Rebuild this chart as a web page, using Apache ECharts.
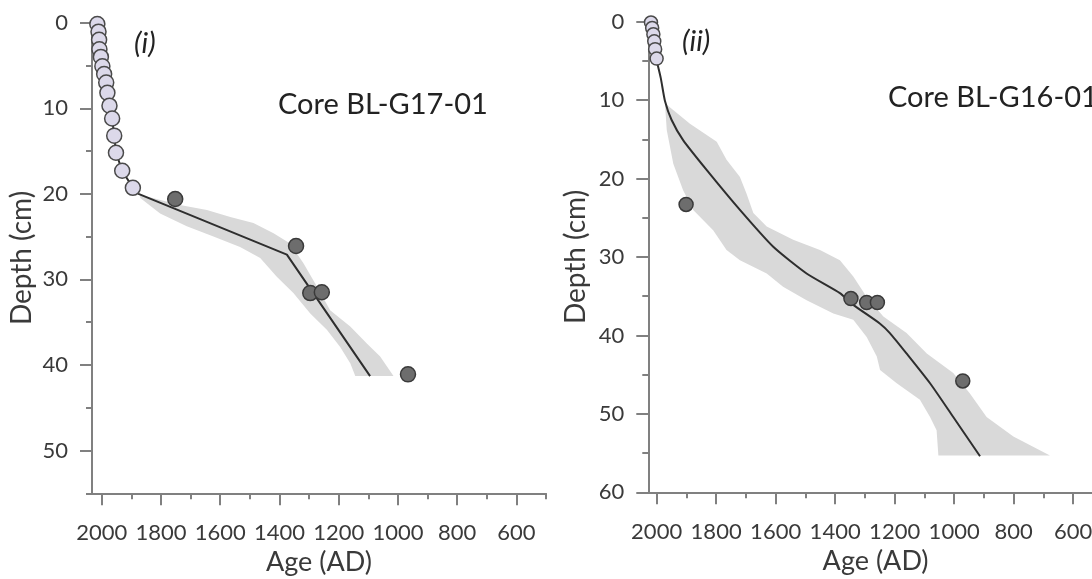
<!DOCTYPE html>
<html>
<head>
<meta charset="utf-8">
<script src="https://cdn.jsdelivr.net/npm/echarts@6/dist/echarts.min.js"></script>
<style>
  html, body { margin: 0; padding: 0; background: #fff; }
  #chart { width: 1092px; height: 579px; }
</style>
</head>
<body>
<div id="chart"></div>
<script>
// ---- Axis ticks ----
const ageTicks = [2000, 1800, 1600, 1400, 1200, 1000, 800, 600];
const ageMinorTicks = [1900, 1700, 1500, 1300, 1100, 900, 700, 500];
const depthTicksG17 = [0, 10, 20, 30, 40, 50];
const depthMinorG17 = [5, 15, 25, 35, 45, 55];
const depthTicksG16 = [0, 10, 20, 30, 40, 50, 60];
const depthMinorG16 = [5, 15, 25, 35, 45, 55];

// ---- Core BL-G17-01: [age AD, depth cm] ----
const g17Pb = [[2015, 0.15], [2011, 1.05], [2009, 2.0], [2008, 3.1], [2003, 4.0], [1998, 5.1],
  [1992, 6.0], [1985, 7.0], [1981, 8.2], [1974, 9.7], [1965, 11.2], [1958, 13.2],
  [1952, 15.2], [1931, 17.3], [1895, 19.3]];
const g17C14 = [[1752, 20.6], [1344, 26.1], [1296, 31.6], [1257, 31.5], [966, 41.1]];
const g17Model = [[2015, 0.15], [2011, 1.05], [2008, 3.1], [2003, 4.0], [1998, 5.1], [1992, 6.0],
  [1985, 7.0], [1981, 8.2], [1974, 9.7], [1965, 11.2], [1958, 13.2], [1952, 15.2],
  [1931, 17.3], [1895, 19.3], [1876, 20.0], [1375, 27.1], [1094, 41.3]];
const g17BandOld = [[1871, 20.1], [1736, 21.3], [1645, 21.9], [1566, 22.7], [1488, 23.4],
  [1420, 24.6], [1364, 25.8], [1319, 28.1], [1274, 30.8], [1229, 33.6], [1161, 35.5],
  [1105, 37.5], [1060, 39.0], [1015, 41.3]];
const g17BandYoung = [[1870, 20.5], [1803, 22.3], [1713, 23.8], [1623, 25.0], [1533, 26.2],
  [1465, 27.5], [1409, 29.7], [1353, 31.6], [1296, 34.0], [1240, 35.9], [1195, 37.9],
  [1161, 39.8], [1144, 41.3]];

// ---- Core BL-G16-01: [age AD, depth cm] ----
const g16Pb = [[2019, 0.1], [2015, 0.8], [2011, 1.6], [2008, 2.5], [2005, 3.5], [2000, 4.7]];
const g16C14 = [[1901, 23.3], [1347, 35.3], [1294, 35.8], [1258, 35.8], [971, 45.8]];
const g16Model = [[2019, 0.1], [2015, 0.8], [2011, 1.6], [2008, 2.5], [2005, 3.5], [2000, 4.9],
  [1986, 7.2], [1972, 10.1], [1950, 12.5], [1911, 15.1], [1832, 18.9], [1720, 24.0],
  [1608, 28.7], [1496, 32.1], [1384, 34.6], [1339, 36.1], [1249, 38.5], [1216, 39.7],
  [1160, 42.3], [1081, 46.1], [1003, 50.4], [913, 55.4]];
const g16BandOld = [[1972, 10.4], [1888, 13.0], [1798, 15.3], [1765, 17.6], [1720, 19.8],
  [1698, 21.9], [1675, 24.4], [1630, 26.1], [1541, 27.8], [1451, 29.1], [1384, 30.4],
  [1339, 32.5], [1294, 35.1], [1238, 37.6], [1160, 39.7], [1092, 42.3], [1003, 44.8],
  [947, 47.4], [891, 50.4], [801, 52.9], [678, 55.3]];
const g16BandYoung = [[1972, 10.4], [1966, 13.8], [1944, 18.1], [1911, 21.5], [1877, 24.0],
  [1810, 26.6], [1765, 29.1], [1720, 30.4], [1630, 32.1], [1575, 33.8], [1496, 35.5],
  [1406, 37.2], [1339, 38.0], [1294, 40.2], [1260, 42.7], [1249, 44.4], [1193, 46.1],
  [1115, 48.2], [1081, 50.4], [1059, 52.1], [1053, 55.3]];

const FONT = 'Lato, "Open Sans", sans-serif';
const AXIS_GRAY = '#808080';
const TEXT = '#3a3a3a';
const plain = function (v) { return String(v); };

function ageAxis(grid, max, major) {
  return {
    type: 'value', gridIndex: grid, inverse: true, min: 500, max: max,
    position: 'bottom',
    name: major ? 'Age (AD)' : '', nameLocation: 'middle', nameGap: 53,
    nameTextStyle: { fontFamily: FONT, fontSize: 27, color: TEXT },
    axisLine: { show: major, onZero: false, lineStyle: { color: AXIS_GRAY, width: 2 } },
    axisTick: { show: true, customValues: major ? ageTicks : ageMinorTicks,
      length: major ? 12 : 6, lineStyle: { color: AXIS_GRAY, width: 2 } },
    axisLabel: { show: major, customValues: ageTicks, margin: 29, formatter: plain,
      fontFamily: FONT, fontSize: 22, color: TEXT },
    splitLine: { show: false }
  };
}

function depthAxis(grid, max, ticks, minor, major, gap) {
  return {
    type: 'value', gridIndex: grid, inverse: true, min: 0, max: max,
    position: 'left',
    name: major ? 'Depth (cm)' : '', nameLocation: 'middle', nameGap: gap,
    nameTextStyle: { fontFamily: FONT, fontSize: 28, color: TEXT },
    axisLine: { show: major, onZero: false, lineStyle: { color: AXIS_GRAY, width: 2 } },
    axisTick: { show: true, customValues: major ? ticks : minor,
      length: major ? 12 : 6, lineStyle: { color: AXIS_GRAY, width: 2 } },
    axisLabel: { show: major, customValues: ticks, margin: 24, formatter: plain,
      fontFamily: FONT, fontSize: 22, color: TEXT },
    splitLine: { show: false }
  };
}

// Shaded uncertainty envelope: older edge downwards, younger edge back up
function bandSeries(oldEdge, youngEdge, xi, yi) {
  const poly = oldEdge.concat(youngEdge.slice().reverse());
  return {
    type: 'custom', xAxisIndex: xi, yAxisIndex: yi, z: 1, silent: true,
    data: [poly[0]],
    renderItem: function (params, api) {
      return {
        type: 'polygon',
        shape: { points: poly.map(function (p) { return api.coord(p); }) },
        style: { fill: '#d9d9d9' }
      };
    }
  };
}

function modelLine(data, xi, yi, smooth) {
  return {
    type: 'line', xAxisIndex: xi, yAxisIndex: yi, z: 2, data: data,
    showSymbol: false, silent: true, smooth: smooth,
    lineStyle: { color: '#2e2e2e', width: 2 }
  };
}

function dots(data, xi, yi, size, fill, stroke) {
  return {
    type: 'scatter', xAxisIndex: xi, yAxisIndex: yi, z: 3, data: data,
    symbol: 'circle', symbolSize: size, silent: true,
    itemStyle: { color: fill, borderColor: stroke, borderWidth: 1.5, opacity: 1 }
  };
}

const chart = echarts.init(document.getElementById('chart'), null, { renderer: 'canvas' });

chart.setOption({
  animation: false,
  backgroundColor: '#ffffff',
  textStyle: { fontFamily: FONT },
  title: [
    { text: 'Core BL-G17-01', left: 273, top: 85,
      textStyle: { fontFamily: FONT, fontSize: 29, fontWeight: 'normal', color: '#222' } },
    { text: 'Core BL-G16-01', left: 883, top: 78,
      textStyle: { fontFamily: FONT, fontSize: 29, fontWeight: 'normal', color: '#222' } },
    { text: '(i)', left: 129, top: 24,
      textStyle: { fontFamily: FONT, fontSize: 29, fontStyle: 'italic', fontWeight: 'normal', color: '#222' } },
    { text: '(ii)', left: 677, top: 22,
      textStyle: { fontFamily: FONT, fontSize: 29, fontStyle: 'italic', fontWeight: 'normal', color: '#222' } }
  ],
  grid: [
    { left: 92, right: 546, top: 22.7, bottom: 85.7, containLabel: false, outerBoundsMode: 'none' },
    { left: 648.3, right: -10.9, top: 21.7, bottom: 86.7, containLabel: false, outerBoundsMode: 'none' }
  ],
  xAxis: [
    ageAxis(0, 2033, true),
    ageAxis(0, 2033, false),
    ageAxis(1, 2028, true),
    ageAxis(1, 2028, false)
  ],
  yAxis: [
    depthAxis(0, 55, depthTicksG17, depthMinorG17, true, 56),
    depthAxis(0, 55, depthTicksG17, depthMinorG17, false, 56),
    depthAxis(1, 60, depthTicksG16, depthMinorG16, true, 58),
    depthAxis(1, 60, depthTicksG16, depthMinorG16, false, 58)
  ],
  series: [
    bandSeries(g17BandOld, g17BandYoung, 0, 0),
    modelLine(g17Model, 0, 0, false),
    dots(g17Pb, 0, 0, 15, '#dcd9ea', '#4a4a4a'),
    dots(g17C14, 0, 0, 15, '#6d6d6d', '#3a3a3a'),
    bandSeries(g16BandOld, g16BandYoung, 2, 2),
    modelLine(g16Model, 2, 2, 0.2),
    dots(g16Pb, 2, 2, 13, '#dcd9ea', '#4a4a4a'),
    dots(g16C14, 2, 2, 14, '#6d6d6d', '#3a3a3a')
  ]
});
</script>
</body>
</html>
